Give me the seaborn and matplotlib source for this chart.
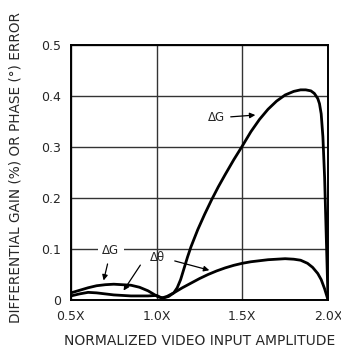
import pandas as pd
import seaborn as sns
import matplotlib.pyplot as plt

sns.set_style("white")
plt.rcParams['font.family'] = ['DejaVu Sans']

# values
dg_x = [0.50, 0.55, 0.60, 0.65, 0.70, 0.75, 0.80, 0.85, 0.90, 0.95, 0.98, 1.01, 1.04,
        1.07, 1.10, 1.12, 1.14, 1.16, 1.18, 1.20, 1.24, 1.28, 1.32, 1.36, 1.40, 1.45,
        1.50, 1.55, 1.60, 1.65, 1.70, 1.75, 1.80, 1.84, 1.87, 1.90, 1.92, 1.94, 1.95,
        1.96, 1.97, 1.98, 1.99, 2.00]
dg_y = [0.014, 0.019, 0.024, 0.028, 0.030, 0.031, 0.030, 0.029, 0.025, 0.018, 0.012, 0.006, 0.004,
        0.007, 0.014, 0.024, 0.040, 0.062, 0.084, 0.104, 0.138, 0.168, 0.196, 0.222, 0.246, 0.275,
        0.302, 0.330, 0.354, 0.374, 0.390, 0.402, 0.409, 0.412, 0.412, 0.410, 0.405, 0.395, 0.385,
        0.365, 0.320, 0.240, 0.120, 0.000]

dt_x = [0.50, 0.55, 0.60, 0.65, 0.70, 0.75, 0.80, 0.85, 0.90, 0.95, 1.00, 1.03, 1.06,
        1.10, 1.15, 1.20, 1.25, 1.30, 1.35, 1.40, 1.45, 1.50, 1.55, 1.60, 1.65, 1.70,
        1.75, 1.80, 1.84, 1.88, 1.91, 1.94, 1.96, 1.98, 2.00]
dt_y = [0.008, 0.012, 0.015, 0.014, 0.012, 0.010, 0.009, 0.008, 0.008, 0.008, 0.009, 0.004, 0.007,
        0.014, 0.024, 0.033, 0.042, 0.050, 0.057, 0.063, 0.068, 0.072, 0.075, 0.077, 0.079, 0.080,
        0.081, 0.080, 0.078, 0.072, 0.064, 0.052, 0.040, 0.022, 0.000]

x_ticks = [0.5, 1.0, 1.5, 2.0]
x_labels = ['0.5X', '1.0X', '1.5X', '2.0X']
y_ticks = [0, 0.1, 0.2, 0.3, 0.4, 0.5]
y_labels = ['0', '0.1', '0.2', '0.3', '0.4', '0.5']

df = pd.concat([
    pd.DataFrame({'amp': dg_x, 'err': dg_y, 'curve': 'dG'}),
    pd.DataFrame({'amp': dt_x, 'err': dt_y, 'curve': 'dtheta'}),
])

fig = plt.figure(figsize=(3.41, 3.54), dpi=100)
ax = fig.add_axes([0.208, 0.1525, 0.754, 0.7205])

sns.lineplot(data=df, x='amp', y='err', units='curve', estimator=None, sort=False,
             color='black', linewidth=2.0, ax=ax, legend=False, zorder=3)

ax.set_xlim(0.5, 2.0)
ax.set_ylim(0, 0.5)
ax.set_xticks(x_ticks)
ax.set_xticklabels(x_labels)
ax.set_yticks(y_ticks)
ax.set_yticklabels(y_labels)
ax.tick_params(length=0, labelsize=9, pad=7)
ax.grid(True, color='#333333', linewidth=1.0)
ax.set_axisbelow(True)
for s in ax.spines.values():
    s.set_color('black')
    s.set_linewidth(1.4)

ax.set_xlabel('NORMALIZED VIDEO INPUT AMPLITUDE', fontsize=10, labelpad=8)
ax.set_ylabel('DIFFERENTIAL GAIN (%) OR PHASE (°) ERROR', fontsize=9.8)
ax.yaxis.set_label_coords(-0.19, 0.52)

arrow = dict(arrowstyle='-|>', color='black', lw=0.9, mutation_scale=8)

# top dG label
ax.annotate('ΔG', xy=(1.592, 0.363), xytext=(1.347, 0.357), fontsize=8.5,
            ha='center', va='center', arrowprops=arrow)
# left dG label (breaks the grid line)
ax.annotate('ΔG', xy=(0.687, 0.033), xytext=(0.733, 0.098), fontsize=8.5,
            ha='center', va='center',
            bbox=dict(boxstyle='square,pad=0.4', fc='white', ec='none'),
            arrowprops=arrow)
# dtheta label with two arrows
ax.text(1.002, 0.084, 'Δθ', fontsize=8.5, ha='center', va='center')
ax.annotate('', xy=(0.798, 0.014), xytext=(0.914, 0.073), arrowprops=arrow)
ax.annotate('', xy=(1.323, 0.057), xytext=(1.09, 0.078), arrowprops=arrow)

fig.savefig('out.png', dpi=100)
